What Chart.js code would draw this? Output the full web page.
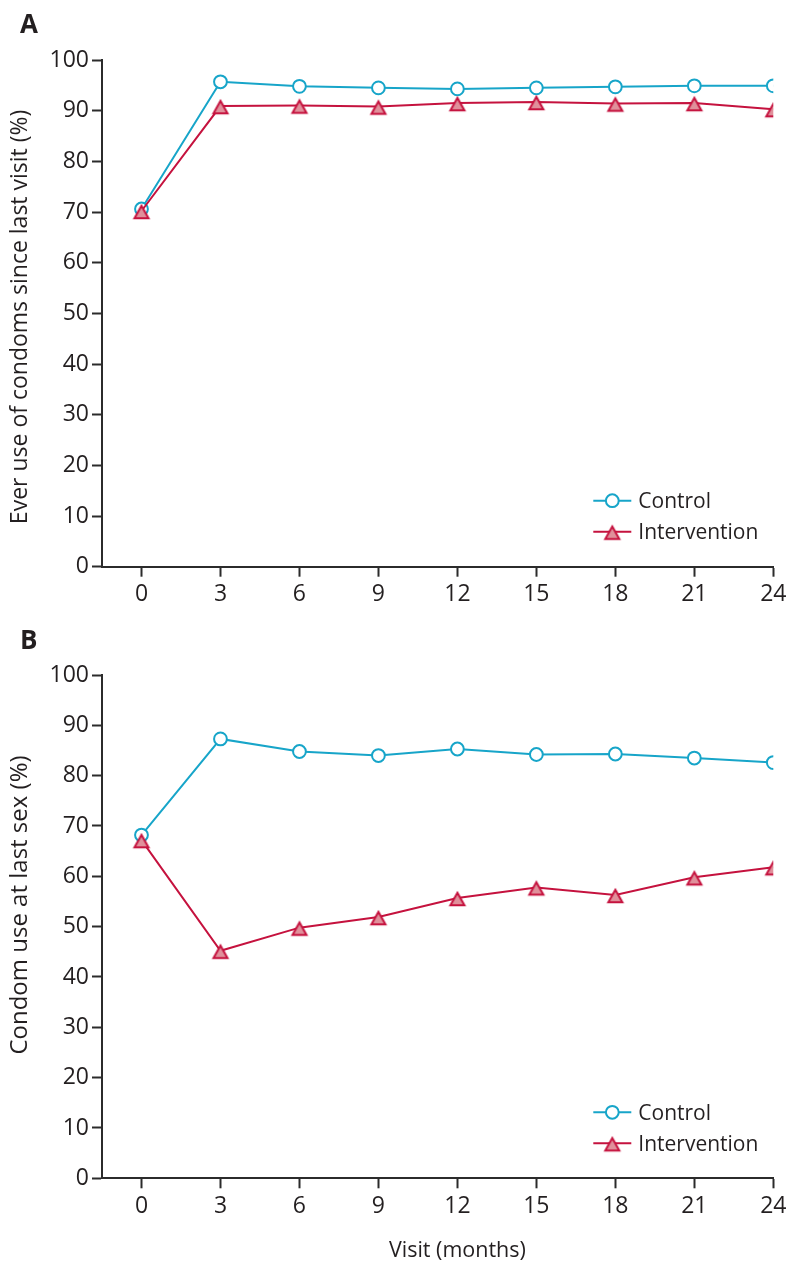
<!DOCTYPE html>
<html><head><meta charset="utf-8">
<script src="https://cdn.jsdelivr.net/npm/chart.js@4.4.1/dist/chart.umd.min.js"></script>
<style>
html,body{margin:0;padding:0;background:#fff;}
#wrap{position:relative;width:800px;height:1271px;overflow:hidden;}
canvas{position:absolute;left:0;}
</style></head><body>
<div id="wrap">
<canvas id="ca" width="800" height="615" style="top:0px"></canvas>
<canvas id="cb" width="800" height="656" style="top:615px"></canvas>
</div>
<script>
// ---------- data ----------
const months = [0, 3, 6, 9, 12, 15, 18, 21, 24];
const xTickValues = [0, 3, 6, 9, 12, 15, 18, 21, 24];
const yTickValues = [0, 10, 20, 30, 40, 50, 60, 70, 80, 90, 100];
const controlA = [70.6, 95.7, 94.8, 94.5, 94.3, 94.5, 94.7, 94.9, 94.9];
const interventionA = [70.2, 90.9, 91.0, 90.8, 91.5, 91.7, 91.4, 91.5, 90.3];
const controlB = [68.2, 87.3, 84.8, 84.0, 85.3, 84.2, 84.3, 83.5, 82.6];
const interventionB = [67.2, 45.2, 49.8, 51.9, 55.7, 57.8, 56.3, 59.8, 61.8];
const seriesNames = ['Control', 'Intervention'];
const panelLabels = ['A', 'B'];
const yTitles = ['Ever use of condoms since last visit (%)', 'Condom use at last sex (%)'];
const xTitle = 'Visit (months)';

// ---------- style ----------
const FONT = "'Open Sans', 'Noto Sans', sans-serif";
const TEXT = '#231f20';
const AXIS = '#2b2b2b';
const CYAN = '#17a5c9';
const RED = '#c5123e';
const PINK = '#e0909b';

// triangle marker image (apex above the point, base below, like the reference)
function makeTriangle() {
  const c = document.createElement('canvas');
  c.width = 20; c.height = 26;
  const g = c.getContext('2d');
  const cx = 10, cy = 13;
  g.beginPath();
  g.moveTo(cx, cy - 5.2);
  g.lineTo(cx + 7, cy + 7.2);
  g.lineTo(cx - 7, cy + 7.2);
  g.closePath();
  g.fillStyle = PINK; g.fill();
  g.lineWidth = 2; g.lineJoin = 'miter'; g.strokeStyle = RED; g.stroke();
  return c;
}
const TRI = makeTriangle();

function pts(vals) { return months.map((m, i) => ({x: m, y: vals[i]})); }

const decorPlugin = {
  id: 'decor',
  afterDraw(chart, args, o) {
    const ctx = chart.ctx, ca = chart.chartArea;
    const ys = chart.scales.y, xs = chart.scales.x;
    ctx.save();
    ctx.fillStyle = TEXT;
    // panel letter
    ctx.font = "bold 26px " + FONT;
    ctx.textAlign = 'left'; ctx.textBaseline = 'alphabetic';
    ctx.fillText(o.label, 20, o.labelBaseline);
    // y title
    ctx.font = o.yTitleSize + "px " + FONT;
    ctx.save();
    ctx.translate(27, ys.getPixelForValue(o.yTitleAt));
    ctx.rotate(-Math.PI / 2);
    ctx.textAlign = 'center';
    ctx.fillText(o.yTitle, 0, 0);
    ctx.restore();
    // x title
    if (o.xTitle) {
      ctx.font = "21.5px " + FONT;
      ctx.textAlign = 'center';
      ctx.fillText(o.xTitle, xs.getPixelForValue(12), ca.bottom + 78.4);
    }
    // legend
    const rows = [ca.bottom - 66, ca.bottom - 35];
    const mx = ca.right - 161;
    chart.data.datasets.forEach((ds, i) => {
      const y = rows[i];
      ctx.strokeStyle = ds.borderColor; ctx.lineWidth = 2;
      ctx.beginPath(); ctx.moveTo(mx - 19, y); ctx.lineTo(mx + 19, y); ctx.stroke();
      if (ds.pointStyle === 'circle') {
        ctx.beginPath(); ctx.arc(mx, y, ds.pointRadius, 0, Math.PI * 2);
        ctx.fillStyle = '#fff'; ctx.fill(); ctx.stroke();
      } else {
        ctx.drawImage(ds.pointStyle, mx - ds.pointStyle.width / 2, y - ds.pointStyle.height / 2);
      }
      ctx.fillStyle = TEXT;
      ctx.font = "21px " + FONT;
      ctx.textAlign = 'left'; ctx.textBaseline = 'alphabetic';
      ctx.fillText(ds.label, mx + 26, y + 7.5);
    });
    ctx.restore();
  }
};

function makeChart(id, control, intervention, idx, xAxisHeight, top) {
  const tickFont = {family: FONT, size: 23};
  return new Chart(document.getElementById(id), {
    type: 'line',
    data: {
      datasets: [
        {label: seriesNames[0], data: pts(control), borderColor: CYAN, borderWidth: 2,
         pointStyle: 'circle', pointRadius: 6.4, pointBorderWidth: 2, pointBackgroundColor: '#fff',
         pointBorderColor: CYAN, tension: 0, order: 1},
        {label: seriesNames[1], data: pts(intervention), borderColor: RED, borderWidth: 2,
         pointStyle: TRI, pointRadius: 7, pointBorderWidth: 2, pointBackgroundColor: PINK,
         pointBorderColor: RED, tension: 0, order: 0}
      ]
    },
    options: {
      responsive: false, animation: false, devicePixelRatio: 1, events: [],
      layout: {padding: {top: top, right: 26.7, left: 0, bottom: 0}},
      plugins: {
        legend: {display: false}, tooltip: {enabled: false},
        decor: {
          label: panelLabels[idx], labelBaseline: idx === 0 ? 33 : 34,
          yTitle: yTitles[idx], yTitleAt: idx === 0 ? 49.3 : 54.3,
          yTitleSize: idx === 0 ? 23 : 24,
          xTitle: idx === 1 ? xTitle : null
        }
      },
      scales: {
        x: {
          type: 'linear', min: -1.5, max: 24,
          afterBuildTicks: s => { s.ticks = xTickValues.map(v => ({value: v})); },
          afterFit: s => { s.height = xAxisHeight; },
          ticks: {font: tickFont, color: TEXT, padding: 4, maxRotation: 0, autoSkip: false},
          grid: {drawOnChartArea: false, drawTicks: true, tickLength: 10, tickColor: AXIS, tickWidth: 2},
          border: {color: AXIS, width: 2}
        },
        y: {
          min: 0, max: 100,
          afterBuildTicks: s => { s.ticks = yTickValues.map(v => ({value: v})); },
          afterFit: s => { s.width = 102; },
          ticks: {font: tickFont, color: TEXT, padding: 3},
          grid: {drawOnChartArea: false, drawTicks: true, tickLength: 10, tickColor: AXIS, tickWidth: 2},
          border: {color: AXIS, width: 2}
        }
      }
    },
    plugins: [decorPlugin]
  });
}

function draw() {
  makeChart('ca', controlA, interventionA, 0, 615 - 566.7, 60);
  makeChart('cb', controlB, interventionB, 1, 656 - 563.3, 60);
}
if (document.fonts && document.fonts.load) {
  Promise.all([document.fonts.load("22px 'Open Sans'"), document.fonts.load("bold 24px 'Open Sans'")])
    .then(draw, draw);
} else { draw(); }
</script>
</body></html>
